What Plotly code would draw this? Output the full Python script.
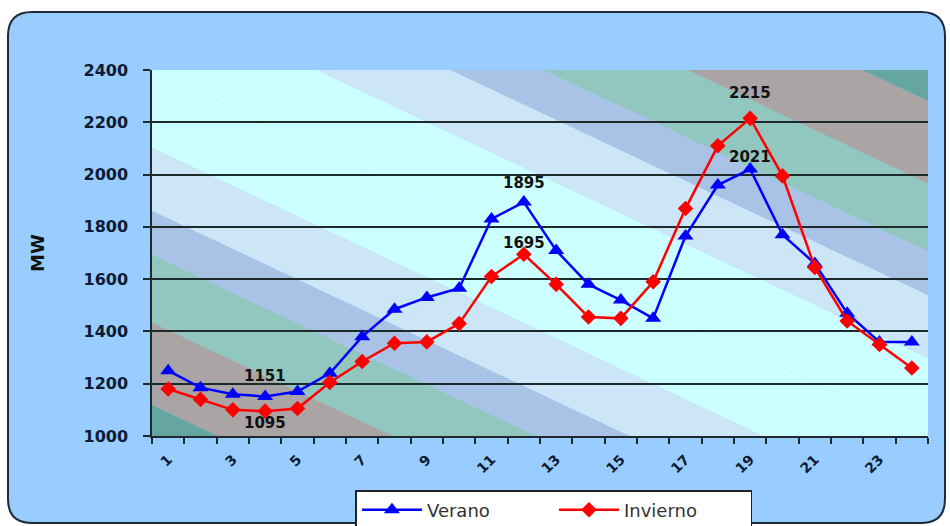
import plotly.graph_objects as go

# ---- data ----
hours = list(range(1, 25))
verano = [1250, 1185, 1160, 1151, 1170, 1240, 1380, 1485, 1530, 1565, 1830, 1895,
          1710, 1580, 1520, 1450, 1765, 1960, 2021, 1770, 1660, 1470, 1360, 1360]
invierno = [1180, 1140, 1100, 1095, 1105, 1205, 1285, 1355, 1360, 1430, 1610, 1695,
            1580, 1455, 1450, 1590, 1870, 2110, 2215, 1995, 1645, 1440, 1350, 1260]
tick_hours = list(range(1, 24, 2))
tick_text = [str(h) for h in tick_hours]
y_ticks = [1000, 1200, 1400, 1600, 1800, 2000, 2200, 2400]
labels = [  # (series, hour, vertical offset) for value labels
    ("verano", 4, 21), ("invierno", 4, -12), ("verano", 12, 19),
    ("invierno", 12, 11), ("invierno", 19, 25), ("verano", 19, 12),
]

# ---- layout geometry ----
W, H = 950, 526
ML, MR, MT, MB = 152, 22, 70, 90
PW, PH = W - ML - MR, H - MT - MB


def P(px, py):
    return ((px - ML) / PW, (MT + PH - py) / PH)


def clip(poly, a, lo):
    out = []
    n = len(poly)
    for i in range(n):
        p, q = poly[i], poly[(i + 1) % n]
        fp = a * (p[0] + p[1] - lo)
        fq = a * (q[0] + q[1] - lo)
        if fp >= 0:
            out.append(p)
        if (fp >= 0) != (fq >= 0):
            t = fp / (fp - fq)
            out.append((p[0] + t * (q[0] - p[0]), p[1] + t * (q[1] - p[1])))
    return out


def band(s1, s2):
    sq = [(0, 0), (1, 0), (1, 1), (0, 1)]
    poly = clip(sq, 1, s1)
    poly = clip(poly, -1, s2)
    return "M " + " L ".join(f"{x:.5f},{y:.5f}" for x, y in poly) + " Z"


shapes = []
L, R, T, B, r = 8, 945, 12, 523, 24
pts = [("M", L + r, T), ("L", R - r, T), ("Q", R, T, R, T + r), ("L", R, B - r),
       ("Q", R, B, R - r, B), ("L", L + r, B), ("Q", L, B, L, B - r),
       ("L", L, T + r), ("Q", L, T, L + r, T)]
d = ""
for p in pts:
    if p[0] == "Q":
        a = P(p[1], p[2]); b = P(p[3], p[4])
        d += f"Q {a[0]:.5f},{a[1]:.5f} {b[0]:.5f},{b[1]:.5f} "
    else:
        a = P(p[1], p[2])
        d += f"{p[0]} {a[0]:.5f},{a[1]:.5f} "
d += "Z"
shapes.append(dict(type="path", xref="paper", yref="paper", path=d, layer="below",
                   fillcolor="#99CCFF", line=dict(color="#1f2a38", width=2)))

bands = [(0.0, 0.213, "#CCFFFF"), (0.213, 0.385, "#CCE6F8"), (0.385, 0.505, "#A9C3E6"),
         (0.505, 0.69, "#92C7C0"), (0.69, 0.915, "#AAA4A4"), (0.915, 1.0, "#66A6A0")]
for lo, hi, col in bands:
    for s1, s2 in ((1 + lo, 1 + hi), (1 - hi, 1 - lo)):
        shapes.append(dict(type="path", xref="paper", yref="paper", path=band(s1, s2),
                           layer="below", fillcolor=col, line=dict(width=0)))

fig = go.Figure()
fig.add_trace(go.Scatter(x=hours, y=verano, name="Verano", mode="lines+markers",
                         line=dict(color="#0000FF", width=2.5),
                         marker=dict(symbol="triangle-up", size=14, color="#0000FF")))
fig.add_trace(go.Scatter(x=hours, y=invierno, name="Invierno", mode="lines+markers",
                         line=dict(color="#FF0000", width=2.5),
                         marker=dict(symbol="diamond", size=12, color="#FF0000")))

series = {"verano": verano, "invierno": invierno}
annotations = []
for s, h, shift in labels:
    v = series[s][h - 1]
    annotations.append(dict(x=h, y=v, text=str(v), showarrow=False, yshift=shift,
                            font=dict(family="DejaVu Sans", size=15, color="#111111",
                                      weight="bold")))

axis_dark = "#1e2a30"
fig.update_layout(
    width=W, height=H, autosize=False,
    margin=dict(l=ML, r=MR, t=MT, b=MB, autoexpand=False),
    paper_bgcolor="white",
    plot_bgcolor="rgba(0,0,0,0)",
    shapes=shapes,
    annotations=annotations,
    showlegend=True,
    legend=dict(orientation="h", x=0.518, xanchor="center",
                yref="container", y=1 - 490 / H, yanchor="top",
                bgcolor="white", bordercolor="#222222", borderwidth=1.5,
                font=dict(family="DejaVu Sans", size=18, color="#333333"),
                itemwidth=60, entrywidth=122, tracegroupgap=0),
    xaxis=dict(range=[0.5, 24.5], tickvals=tick_hours, ticktext=tick_text,
               tickangle=-45, ticks="", showgrid=False, zeroline=False,
               showline=True, linecolor=axis_dark, linewidth=1.5,
               ticklabelstandoff=8, automargin=False,
               tickfont=dict(family="DejaVu Sans", size=14, color="#0d1a33", weight="bold"),
               minor=dict(tickvals=[h + 0.5 for h in range(0, 25)], ticks="outside",
                          ticklen=6, tickwidth=1.5, tickcolor=axis_dark, showgrid=False)),
    yaxis=dict(range=[1000, 2400], tickvals=y_ticks, showgrid=False, zeroline=False,
               showline=True, linecolor=axis_dark, linewidth=1.5,
               ticks="outside", ticklen=7, tickwidth=1.5, tickcolor=axis_dark,
               ticklabelstandoff=12, automargin=False,
               tickfont=dict(family="DejaVu Sans", size=16, color="#0d1a33", weight="bold"),
               title=dict(text="MW", standoff=34,
                          font=dict(family="DejaVu Sans", size=18, color="#111111",
                                    weight="bold")),
               minor=dict(tickvals=y_ticks[1:-1], showgrid=True, gridcolor="#1e2a2a",
                          gridwidth=1.5, ticks="")),
)

fig.write_html(
    "out.html",
    config={"displayModeBar": False},
    post_script="document.body.style.margin='0px';document.body.style.overflow='hidden';",
)
